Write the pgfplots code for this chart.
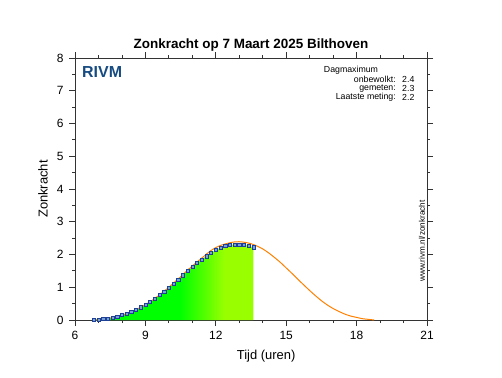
\documentclass[border=0pt]{standalone}
\usepackage{pgfplots}
\pgfplotsset{compat=1.18}
\usepackage{fontspec}
\setmainfont{Liberation Sans}
\definecolor{pgreen}{RGB}{0,255,0}
\definecolor{lgreen}{RGB}{153,255,0}
\definecolor{uvorange}{RGB}{255,128,0}
\definecolor{mfill}{RGB}{120,160,215}
\definecolor{medge}{RGB}{30,65,150}
\definecolor{rivmblue}{RGB}{22,75,130}
\pgfdeclarehorizontalshading{greenshade}{100bp}{color(0bp)=(pgreen); color(52bp)=(pgreen); color(66bp)=(lgreen); color(100bp)=(lgreen)}
\pgfplotstableread{
t v
6.8 0.01
7.0 0.02
7.2 0.03
7.4 0.05
7.6 0.08
7.8 0.11
8.0 0.15
8.2 0.20
8.4 0.26
8.6 0.32
8.8 0.39
9.0 0.47
9.2 0.56
9.4 0.65
9.6 0.76
9.8 0.87
10.0 0.98
10.2 1.11
10.4 1.24
10.6 1.37
10.8 1.50
11.0 1.62
11.2 1.74
11.4 1.85
11.6 1.95
11.8 2.05
12.0 2.14
12.2 2.21
12.4 2.26
12.6 2.29
12.8 2.31
13.0 2.31
13.2 2.30
13.4 2.27
13.6 2.22
}\measured
\pgfplotstableread{
t v
6.75 0.00
7.00 0.01
7.25 0.03
7.50 0.06
7.75 0.10
8.00 0.15
8.25 0.21
8.50 0.28
8.75 0.37
9.00 0.47
9.25 0.58
9.50 0.71
9.75 0.85
10.00 1.00
10.25 1.16
10.50 1.32
10.75 1.49
11.00 1.65
11.25 1.80
11.50 1.95
11.75 2.10
12.00 2.21
12.25 2.29
12.50 2.34
12.75 2.38
13.00 2.39
13.25 2.37
13.50 2.33
13.75 2.26
14.00 2.17
14.25 2.05
14.50 1.91
14.75 1.76
15.00 1.59
15.25 1.42
15.50 1.24
15.75 1.07
16.00 0.90
16.25 0.74
16.50 0.59
16.75 0.46
17.00 0.35
17.25 0.26
17.50 0.18
17.75 0.12
18.00 0.08
18.25 0.04
18.50 0.02
18.75 0.00
}\clearsky
\begin{document}
\begin{tikzpicture}[x=1bp,y=1bp]
\path[use as bounding box] (0,0) rectangle (502,377);
\begin{axis}[
  at={(75bp,57bp)}, anchor=south west,
  scale only axis, width=352bp, height=262bp,
  xmin=6, xmax=21, ymin=0, ymax=8,
  xtick={6,9,12,15,18,21}, ytick={0,1,...,8},
  minor x tick num=2, minor y tick num=1,
  tick align=outside,
  major tick length=6bp, minor tick length=3bp,
  tick style={black!80, line width=0.8bp},
  axis line style={black!80, line width=1bp},
  /pgf/number format/assume math mode=true,
  tick label style={font=\fontsize{12}{14}\selectfont},
  xticklabel style={yshift=-2bp},
  yticklabel style={xshift=-2bp},
  xlabel={Tijd (uren)}, ylabel={Zonkracht},
  every axis x label/.style={at={(axis description cs:0.543,0)}, anchor=center, yshift=-36bp, font=\fontsize{13}{15}\selectfont},
  every axis y label/.style={at={(axis description cs:-0.091,0.5)}, rotate=90, anchor=center, font=\fontsize{13}{15}\selectfont},
  clip=true,
]
\addplot[draw=none, shading=greenshade] table[x=t,y=v] {\measured} \closedcycle;
\addplot[only marks, mark=square*, mark size=1.6bp, mark options={fill=mfill, draw=medge, line width=0.45bp}] table[x=t,y=v] {\measured};
\addplot[uvorange, line width=1bp, smooth, no marks] table[x=t,y=v] {\clearsky};
\end{axis}
\node[font=\fontsize{13.5}{16}\selectfont\bfseries] at (251,332) {Zonkracht op 7 Maart 2025 Bilthoven};
\node[anchor=west, font=\fontsize{16}{18}\selectfont\bfseries, text=rivmblue, inner sep=0] at (82,304.5) {RIVM};
\begin{scope}[every node/.style={font=\fontsize{8.8}{10}\selectfont, inner sep=0}]
\node at (351,307) {Dagmaximum};
\node[anchor=east] at (396,298) {onbewolkt:};
\node[anchor=west] at (402,298) {2.4};
\node[anchor=east] at (396,288.7) {gemeten:};
\node[anchor=west] at (402,288.7) {2.3};
\node[anchor=east] at (396,280) {Laatste meting:};
\node[anchor=west] at (402,280) {2.2};
\node[rotate=90, font=\fontsize{8.2}{10}\selectfont] at (422,136) {www.rivm.nl/zonkracht};
\end{scope}
\end{tikzpicture}
\end{document}
